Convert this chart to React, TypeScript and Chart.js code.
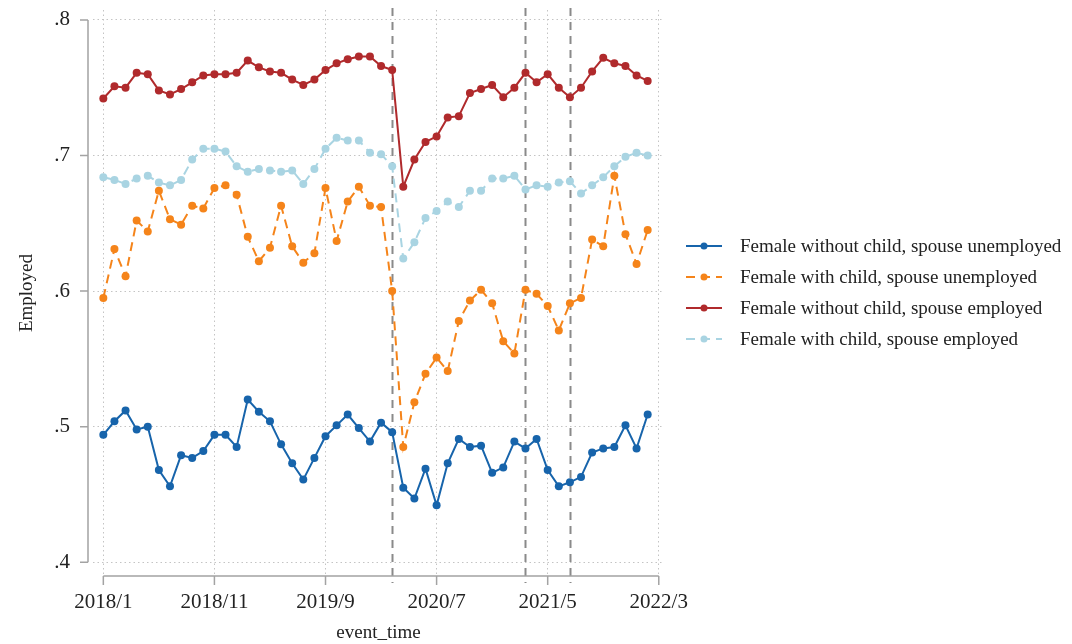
import React, { useEffect, useRef } from 'react';
import { Chart, registerables } from 'chart.js';

Chart.register(...registerables);

const months = [
  '2018/1', '2018/2', '2018/3', '2018/4', '2018/5', '2018/6', '2018/7', '2018/8', '2018/9', '2018/10', '2018/11', '2018/12',
  '2019/1', '2019/2', '2019/3', '2019/4', '2019/5', '2019/6', '2019/7', '2019/8', '2019/9', '2019/10', '2019/11', '2019/12',
  '2020/1', '2020/2', '2020/3', '2020/4', '2020/5', '2020/6', '2020/7', '2020/8', '2020/9', '2020/10', '2020/11', '2020/12',
  '2021/1', '2021/2', '2021/3', '2021/4', '2021/5', '2021/6', '2021/7', '2021/8', '2021/9', '2021/10', '2021/11', '2021/12',
  '2022/1', '2022/2', '2022/3',
];

const xTickLabels = ['2018/1', '2018/11', '2019/9', '2020/7', '2021/5', '2022/3'];
const yTicks = [0.4, 0.5, 0.6, 0.7, 0.8];
const eventMonths = ['2020/3', '2021/3', '2021/7'];

const seriesNames = [
  'Female without child, spouse unemployed',
  'Female with child, spouse unemployed',
  'Female without child, spouse employed',
  'Female with child, spouse employed',
];

const noChildSpouseUnemployed = [
  0.494, 0.504, 0.512, 0.498, 0.500, 0.468, 0.456, 0.479, 0.477, 0.482,
  0.494, 0.494, 0.485, 0.520, 0.511, 0.504, 0.487, 0.473, 0.461, 0.477,
  0.493, 0.501, 0.509, 0.499, 0.489, 0.503, 0.496, 0.455, 0.447, 0.469,
  0.442, 0.473, 0.491, 0.485, 0.486, 0.466, 0.470, 0.489, 0.484, 0.491,
  0.468, 0.456, 0.459, 0.463, 0.481, 0.484, 0.485, 0.501, 0.484, 0.509,
];

const childSpouseUnemployed = [
  0.595, 0.631, 0.611, 0.652, 0.644, 0.674, 0.653, 0.649, 0.663, 0.661,
  0.676, 0.678, 0.671, 0.640, 0.622, 0.632, 0.663, 0.633, 0.621, 0.628,
  0.676, 0.637, 0.666, 0.677, 0.663, 0.662, 0.600, 0.485, 0.518, 0.539,
  0.551, 0.541, 0.578, 0.593, 0.601, 0.591, 0.563, 0.554, 0.601, 0.598,
  0.589, 0.571, 0.591, 0.595, 0.638, 0.633, 0.685, 0.642, 0.620, 0.645,
];

const noChildSpouseEmployed = [
  0.742, 0.751, 0.750, 0.761, 0.760, 0.748, 0.745, 0.749, 0.754, 0.759,
  0.760, 0.760, 0.761, 0.770, 0.765, 0.762, 0.761, 0.756, 0.752, 0.756,
  0.763, 0.768, 0.771, 0.773, 0.773, 0.766, 0.763, 0.677, 0.697, 0.710,
  0.714, 0.728, 0.729, 0.746, 0.749, 0.752, 0.743, 0.750, 0.761, 0.754,
  0.760, 0.750, 0.743, 0.750, 0.762, 0.772, 0.768, 0.766, 0.759, 0.755,
];

const childSpouseEmployed = [
  0.684, 0.682, 0.679, 0.683, 0.685, 0.680, 0.678, 0.682, 0.697, 0.705,
  0.705, 0.703, 0.692, 0.688, 0.690, 0.689, 0.688, 0.689, 0.679, 0.690,
  0.705, 0.713, 0.711, 0.711, 0.702, 0.701, 0.692, 0.624, 0.636, 0.654,
  0.659, 0.666, 0.662, 0.674, 0.674, 0.683, 0.683, 0.685, 0.675, 0.678,
  0.677, 0.680, 0.681, 0.672, 0.678, 0.684, 0.692, 0.699, 0.702, 0.700,
];

const seriesValues = [noChildSpouseUnemployed, childSpouseUnemployed, noChildSpouseEmployed, childSpouseEmployed];
const seriesColors = ['#1764ab', '#f5841a', '#b02a2c', '#a9d4e2'];
const seriesDash = [[], [9, 6], [], [9, 6]];

const FONT = '"Liberation Serif", "DejaVu Serif", serif';
const TEXT = '#222222';
const AXIS = '#a3a3a3';

const axesLegendPlugin = {
  id: 'axesLegend',
  beforeDatasetsDraw(chart: any) {
    const { ctx, chartArea, scales } = chart;
    ctx.save();
    ctx.strokeStyle = '#8a8a8a';
    ctx.lineWidth = 2;
    ctx.setLineDash([8, 6]);
    eventMonths.forEach((m) => {
      const x = Math.round(scales.x.getPixelForValue(months.indexOf(m))) + 0.5;
      ctx.beginPath();
      ctx.moveTo(x, chartArea.top - 2);
      ctx.lineTo(x, chartArea.bottom + 7);
      ctx.stroke();
    });
    ctx.restore();
  },
  afterDraw(chart: any) {
    const { ctx, chartArea, scales } = chart;
    const xs = scales.x;
    const ys = scales.y;
    ctx.save();
    ctx.strokeStyle = AXIS;
    ctx.lineWidth = 1.5;
    ctx.setLineDash([]);
    // y axis
    const ax = 88;
    const yTop = ys.getPixelForValue(yTicks[yTicks.length - 1]);
    const yBot = ys.getPixelForValue(yTicks[0]);
    ctx.beginPath();
    ctx.moveTo(ax, yTop);
    ctx.lineTo(ax, yBot);
    yTicks.forEach((v) => {
      const y = ys.getPixelForValue(v);
      ctx.moveTo(ax - 8, y);
      ctx.lineTo(ax, y);
    });
    ctx.stroke();
    // x axis
    const ay = chartArea.bottom;
    const xl = xs.getPixelForValue(months.indexOf(xTickLabels[0]));
    const xr = xs.getPixelForValue(months.indexOf(xTickLabels[xTickLabels.length - 1]));
    ctx.beginPath();
    ctx.moveTo(xl, ay);
    ctx.lineTo(xr, ay);
    xTickLabels.forEach((l) => {
      const x = xs.getPixelForValue(months.indexOf(l));
      ctx.moveTo(x, ay);
      ctx.lineTo(x, ay + 9);
    });
    ctx.stroke();

    // legend
    const lx = chartArea.right + 22;
    const rowY0 = 246;
    const rowH = 31;
    ctx.font = `19px ${FONT}`;
    ctx.textBaseline = 'middle';
    ctx.textAlign = 'left';
    chart.data.datasets.forEach((ds: any, i: number) => {
      const y = rowY0 + i * rowH;
      ctx.strokeStyle = ds.borderColor;
      ctx.lineWidth = 2;
      ctx.setLineDash(ds.borderDash || []);
      ctx.beginPath();
      ctx.moveTo(lx, y);
      ctx.lineTo(lx + 36, y);
      ctx.stroke();
      ctx.setLineDash([]);
      ctx.fillStyle = ds.borderColor;
      ctx.beginPath();
      ctx.arc(lx + 18, y, 3.5, 0, Math.PI * 2);
      ctx.fill();
      ctx.fillStyle = TEXT;
      ctx.fillText(ds.label, lx + 54, y + 1);
    });
    ctx.restore();
  },
};

export default function App() {
  const canvasRef = useRef<HTMLCanvasElement | null>(null);

  useEffect(() => {
    const canvas = canvasRef.current;
    if (!canvas) return;
    const datasets = seriesNames.map((name, s) => ({
      label: name,
      data: seriesValues[s].map((v, i) => ({ x: i, y: v })),
      borderColor: seriesColors[s],
      backgroundColor: seriesColors[s],
      borderWidth: 2,
      borderDash: seriesDash[s],
      pointRadius: 4,
      pointBorderWidth: 0,
      pointBackgroundColor: seriesColors[s],
      tension: 0,
      fill: false,
    }));
    const chart = new Chart(canvas, {
      type: 'line',
      data: { datasets },
      plugins: [axesLegendPlugin],
      options: {
        responsive: false,
        animation: false,
        layout: { padding: { left: 0, top: 10, right: 408, bottom: 0 } },
        plugins: { legend: { display: false }, tooltip: { enabled: false } },
        scales: {
          x: {
            type: 'linear',
            min: -0.93,
            max: 50.47,
            afterBuildTicks: (scale: any) => {
              scale.ticks = xTickLabels.map((l) => ({ value: months.indexOf(l) }));
            },
            afterFit: (scale: any) => {
              scale.height = 68;
              scale.paddingLeft = 0;
              scale.paddingRight = 0;
            },
            ticks: {
              callback: (v: any) => months[Math.round(v)],
              font: { family: FONT, size: 21 },
              color: TEXT,
              padding: 14,
              maxRotation: 0,
              autoSkip: false,
            },
            grid: { color: '#c4c4c4', lineWidth: 1, drawTicks: false },
            border: { display: false, dash: [1.5, 3] },
            title: {
              display: true,
              text: 'event_time',
              font: { family: FONT, size: 19 },
              color: TEXT,
              padding: { top: 0, bottom: 0 },
            },
          },
          y: {
            type: 'linear',
            min: 0.3899,
            max: 0.8073,
            afterBuildTicks: (scale: any) => {
              scale.ticks = yTicks.map((v) => ({ value: v }));
            },
            afterFit: (scale: any) => {
              scale.width = 93;
              scale.paddingTop = 0;
              scale.paddingBottom = 0;
            },
            ticks: {
              callback: (v: any) => Number(v).toFixed(1).replace(/^0/, ''),
              font: { family: FONT, size: 21 },
              color: TEXT,
              padding: 23,
            },
            grid: { color: '#c4c4c4', lineWidth: 1, drawTicks: false },
            border: { display: false, dash: [1.5, 3] },
            title: {
              display: true,
              text: 'Employed',
              font: { family: FONT, size: 19 },
              color: TEXT,
              padding: { top: 16, bottom: 0 },
            },
          },
        },
      },
    });
    return () => chart.destroy();
  }, []);

  return (
    <div style={{ position: 'fixed', left: 0, top: 0, width: 1072, height: 644, background: '#ffffff' }}>
      <canvas ref={canvasRef} width={1072} height={644} style={{ display: 'block' }} />
    </div>
  );
}
